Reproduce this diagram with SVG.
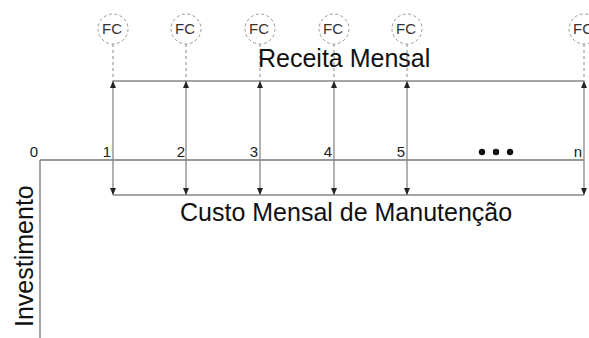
<svg xmlns="http://www.w3.org/2000/svg" width="589" height="338" viewBox="0 0 589 338">
<style>
.ax{stroke:#777;stroke-width:1.3;fill:none}
.ln{stroke:#888;stroke-width:1.3;fill:none}
.dash{stroke:#888;stroke-width:1;stroke-dasharray:3 3;fill:none}
.circ{stroke:#999;stroke-width:1;stroke-dasharray:3 2.5;fill:none}
.fc{font-family:"Liberation Sans",Arial,sans-serif;font-size:15px;fill:#333;text-anchor:middle}
.num{font-family:"Liberation Sans",Arial,sans-serif;font-size:15px;fill:#222;text-anchor:end}
.lbl{font-family:"Liberation Sans",Arial,sans-serif;font-size:25px;fill:#111}
</style>
<defs>
<marker id="up" markerWidth="6" markerHeight="7" refX="3" refY="0" viewBox="0 0 6 7" markerUnits="userSpaceOnUse">
<path d="M0,7 L3,0 L6,7 Z" fill="#222"/>
</marker>
<marker id="dn" markerWidth="6" markerHeight="7" refX="3" refY="7" viewBox="0 0 6 7" markerUnits="userSpaceOnUse">
<path d="M0,0 L3,7 L6,0 Z" fill="#222"/>
</marker>
</defs>
<g id="axis">
<path class="ax" d="M40,160 H584 M40,160 V338"/>
<text class="num" x="38" y="157">0</text>
<text class="num" x="111" y="157">1</text>
<text class="num" x="185" y="157">2</text>
<text class="num" x="258" y="157">3</text>
<text class="num" x="332" y="157">4</text>
<text class="num" x="405" y="157">5</text>
<text class="num" x="582" y="157">n</text>
<circle cx="482" cy="152" r="3.2" fill="#111"/>
<circle cx="496" cy="152" r="3.2" fill="#111"/>
<circle cx="510" cy="152" r="3.2" fill="#111"/>
</g>
<g id="fc-nodes">
<g id="fc1"><circle class="circ" cx="113" cy="29" r="15"/><text class="fc" x="112" y="34">FC</text></g>
<g id="fc2"><circle class="circ" cx="186" cy="29" r="15"/><text class="fc" x="185" y="34">FC</text></g>
<g id="fc3"><circle class="circ" cx="260" cy="29" r="15"/><text class="fc" x="259" y="34">FC</text></g>
<g id="fc4"><circle class="circ" cx="334" cy="29" r="15"/><text class="fc" x="333" y="34">FC</text></g>
<g id="fc5"><circle class="circ" cx="407" cy="29" r="15"/><text class="fc" x="406" y="34">FC</text></g>
<g id="fcn"><circle class="circ" cx="584" cy="29" r="15"/><text class="fc" x="583" y="34">FC</text></g>
</g>
<g id="connectors">
<path class="ln" d="M113,81 H584 M113,195 H584"/>
<path class="dash" d="M113,44 V81 M186,44 V81 M260,44 V81 M334,44 V81 M407,44 V81 M584,44 V81"/>
<path class="ln" d="M113,120 V81" marker-end="url(#up)"/>
<path class="ln" d="M186,120 V81" marker-end="url(#up)"/>
<path class="ln" d="M260,120 V81" marker-end="url(#up)"/>
<path class="ln" d="M334,120 V81" marker-end="url(#up)"/>
<path class="ln" d="M407,120 V81" marker-end="url(#up)"/>
<path class="ln" d="M584,120 V81" marker-end="url(#up)"/>
<path class="ln" d="M113,120 V195" marker-end="url(#dn)"/>
<path class="ln" d="M186,120 V195" marker-end="url(#dn)"/>
<path class="ln" d="M260,120 V195" marker-end="url(#dn)"/>
<path class="ln" d="M334,120 V195" marker-end="url(#dn)"/>
<path class="ln" d="M407,120 V195" marker-end="url(#dn)"/>
<path class="ln" d="M584,120 V195" marker-end="url(#dn)"/>
</g>
<g id="labels">
<text class="lbl" x="258" y="67">Receita Mensal</text>
<text class="lbl" x="180" y="221">Custo Mensal de Manutenção</text>
<text class="lbl" transform="translate(33,327) rotate(-90)">Investimento</text>
</g>
</svg>
